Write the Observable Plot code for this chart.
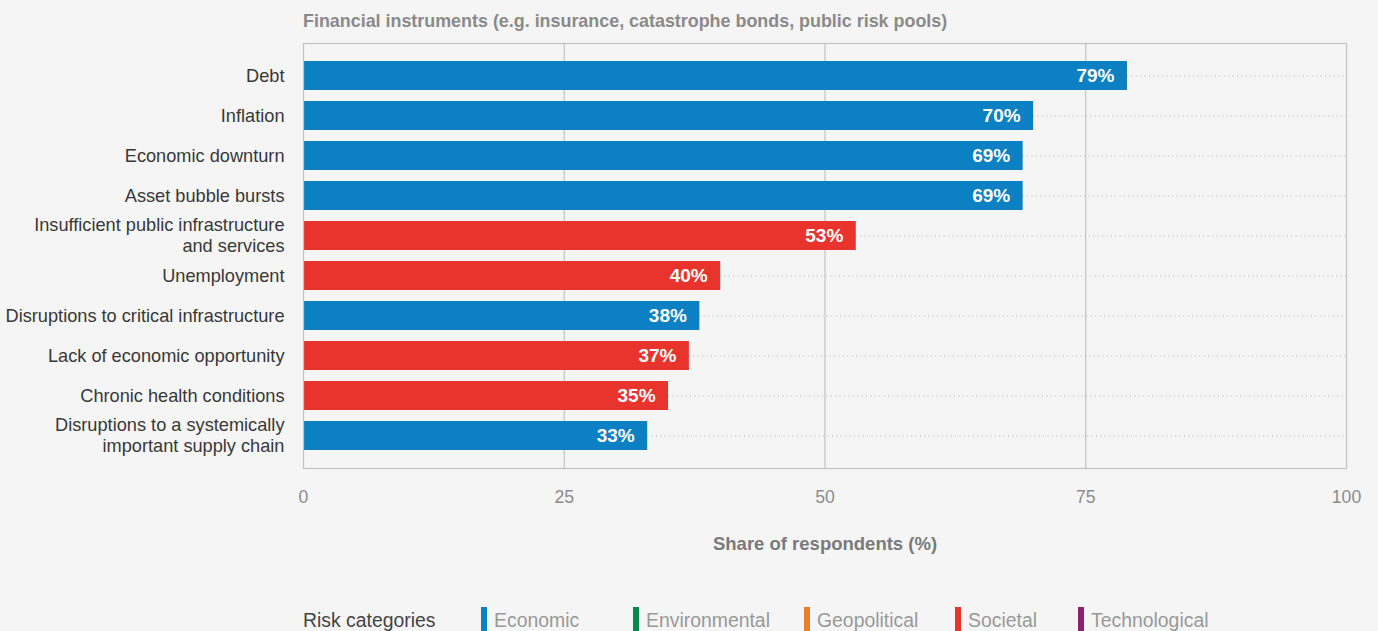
<!DOCTYPE html>
<html>
<head>
<meta charset="utf-8">
<script src="https://cdn.jsdelivr.net/npm/d3@7"></script>
<script src="https://cdn.jsdelivr.net/npm/@observablehq/plot@0.6"></script>
<style>
  html, body { margin: 0; padding: 0; background: #f5f5f5; }
  body { width: 1378px; height: 631px; overflow: hidden; font-family: "Liberation Sans", Arial, sans-serif; position: relative; }
  #title { position: absolute; left: 303px; top: 11px; font-size: 17.9px; font-weight: bold; color: #8a8a8a; line-height: 20px; white-space: nowrap; }
  #chart { position: absolute; left: 0; top: 35px; }
  #legend { position: absolute; left: 303px; top: 607px; width: 1075px; height: 26px; font-size: 19.4px; white-space: nowrap; }
  #legend .head { position: absolute; left: 0; top: 0; line-height: 26px; color: #444; }
  #legend .item { position: absolute; top: 0; display: flex; align-items: center; color: #999; line-height: 26px; }
  #legend .sw { width: 6px; height: 26px; margin-right: 7px; }
</style>
</head>
<body>
<div id="title"></div>
<div id="chart"></div>
<div id="legend"></div>
<script>
const titleText = "Financial instruments (e.g. insurance, catastrophe bonds, public risk pools)";
const categories = [
  "Debt",
  "Inflation",
  "Economic downturn",
  "Asset bubble bursts",
  "Insufficient public infrastructure\nand services",
  "Unemployment",
  "Disruptions to critical infrastructure",
  "Lack of economic opportunity",
  "Chronic health conditions",
  "Disruptions to a systemically\nimportant supply chain"
];
const values = [79, 70, 69, 69, 53, 40, 38, 37, 35, 33];
const riskTypes = ["Economic", "Economic", "Economic", "Economic", "Societal", "Societal", "Economic", "Societal", "Societal", "Economic"];
const legendTitle = "Risk categories";
const legendNames = ["Economic", "Environmental", "Geopolitical", "Societal", "Technological"];
const legendColors = ["#0b80c3", "#078a4b", "#e98024", "#e8342d", "#8f2070"];
const xTicks = [0, 25, 50, 75, 100];
const gridTicks = [25, 50, 75];
const xLabel = "Share of respondents (%)";

const data = categories.map((c, i) => ({category: c, value: values[i], type: riskTypes[i]}));

document.getElementById("title").textContent = titleText;

const plot = Plot.plot({
  width: 1378,
  height: 530,
  marginLeft: 303,
  marginRight: 32,
  marginTop: 8,
  marginBottom: 97,
  style: {background: "transparent", fontFamily: "Liberation Sans, Arial, sans-serif"},
  x: {domain: [0, 100], ticks: xTicks},
  y: {domain: categories, paddingInner: 0.28, paddingOuter: 0.43},
  color: {domain: legendNames, range: legendColors},
  marks: [
    Plot.ruleX(gridTicks, {stroke: "#b9b9b9", strokeWidth: 1, strokeOpacity: 1}),
    Plot.ruleY(data, {y: "category", x1: "value", x2: 100, stroke: "#b5b5b5", strokeDasharray: "1,3.4", strokeWidth: 1}),
    Plot.barX(data, {y: "category", x: "value", fill: "type"}),
    Plot.text(data, {y: "category", x: "value", text: d => d.value + "%", textAnchor: "end", dx: -13, fill: "white", fontWeight: "bold", fontSize: 19}),
    Plot.frame({stroke: "#c4c4c4", strokeWidth: 1.2}),
    Plot.axisX({ticks: xTicks, tickSize: 0, tickPadding: 22, fontSize: 17.6, color: "#8c8c8c", label: null}),
    Plot.axisY({tickSize: 0, tickPadding: 19, fontSize: 18.2, color: "#383838", label: null, lineHeight: 1.17, dy: -1}),
    Plot.text([xLabel], {frameAnchor: "bottom", dy: 81, fontSize: 18.5, fontWeight: "bold", fill: "#7a7a7a"})
  ]
});
document.getElementById("chart").appendChild(plot);

const legendLeft = [178, 330, 501, 652, 775];
const legend = document.getElementById("legend");
const head = document.createElement("span");
head.className = "head";
head.textContent = legendTitle;
legend.appendChild(head);
legendNames.forEach((n, i) => {
  const item = document.createElement("span");
  item.className = "item";
  item.style.left = legendLeft[i] + "px";
  const sw = document.createElement("span");
  sw.className = "sw";
  sw.style.background = legendColors[i];
  const lab = document.createElement("span");
  lab.textContent = n;
  item.appendChild(sw);
  item.appendChild(lab);
  legend.appendChild(item);
});
</script>
</body>
</html>
